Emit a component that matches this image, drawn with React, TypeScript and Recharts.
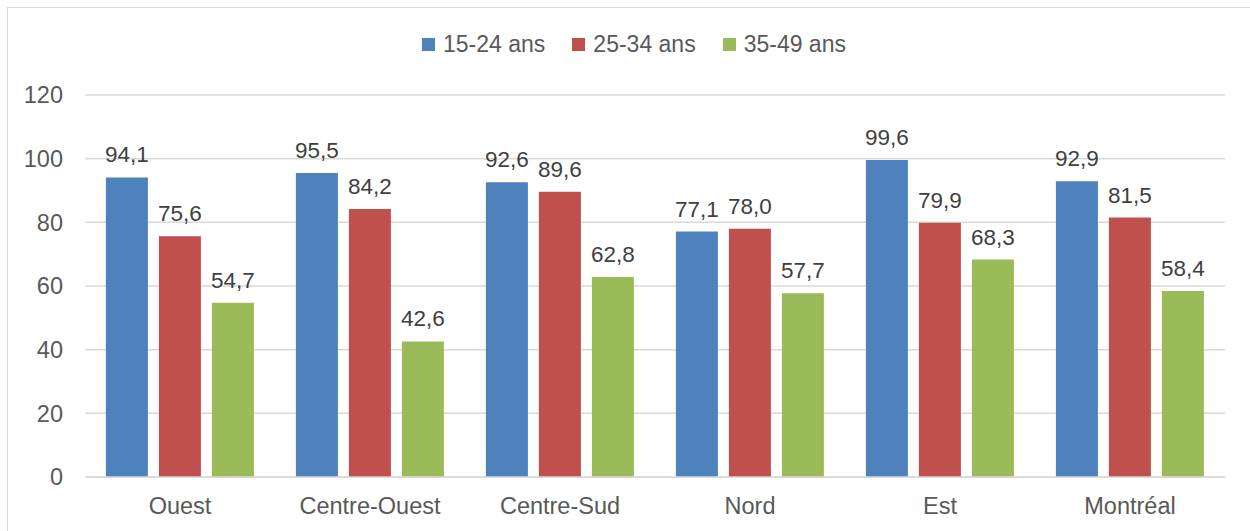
import { Bar, BarChart, CartesianGrid, LabelList, Legend, XAxis, YAxis } from "recharts";

// Taux par territoire et groupe d'âge
const REGIONS = ["Ouest", "Centre-Ouest", "Centre-Sud", "Nord", "Est", "Montréal"];
const AGE_15_24 = [94.1, 95.5, 92.6, 77.1, 99.6, 92.9];
const AGE_25_34 = [75.6, 84.2, 89.6, 78.0, 79.9, 81.5];
const AGE_35_49 = [54.7, 42.6, 62.8, 57.7, 68.3, 58.4];
const Y_TICKS = [0, 20, 40, 60, 80, 100, 120];

const SERIES = [
  { key: "a", name: "15-24 ans", color: "#4F81BD" },
  { key: "b", name: "25-34 ans", color: "#C0504D" },
  { key: "c", name: "35-49 ans", color: "#9BBB59" },
];

const data = REGIONS.map((region, i) => ({
  region,
  a: AGE_15_24[i],
  b: AGE_25_34[i],
  c: AGE_35_49[i],
}));

const FONT = "'Liberation Sans', Arial, sans-serif";
const AXIS_TEXT = "#595959";
const LABEL_TEXT = "#404040";
const GRID = "#D9D9D9";

const fmt = (v: number) => v.toFixed(1).replace(".", ",");

function LegendRow() {
  return (
    <div
      style={{
        display: "flex",
        justifyContent: "center",
        alignItems: "center",
        height: 28,
        paddingLeft: 18,
        fontFamily: FONT,
        fontSize: 23,
        color: AXIS_TEXT,
      }}
    >
      {SERIES.map((s, i) => (
        <div
          key={s.key}
          style={{ display: "flex", alignItems: "center", marginLeft: i === 0 ? 0 : 27 }}
        >
          <span style={{ width: 13, height: 13, background: s.color, marginRight: 8 }} />
          <span>{s.name}</span>
        </div>
      ))}
    </div>
  );
}

export default function App() {
  return (
    <div
      style={{
        position: "absolute",
        left: 0,
        top: 0,
        width: 1250,
        height: 531,
        overflow: "hidden",
        background: "#fff",
      }}
    >
      <div
        style={{
          position: "absolute",
          left: 7,
          top: 7,
          width: 1300,
          height: 600,
          border: "1.5px solid #D9D9D9",
        }}
      />
      <div style={{ position: "absolute", left: 0, top: 0 }}>
        <BarChart
          width={1250}
          height={531}
          data={data}
          margin={{ top: 20, right: 25, bottom: 0, left: 0 }}
          barCategoryGap="11%"
          barGap={11}
        >
          <CartesianGrid stroke={GRID} strokeWidth={1.5} vertical={false} />
          <XAxis
            dataKey="region"
            axisLine={{ stroke: GRID, strokeWidth: 1.5 }}
            tickLine={false}
            tickMargin={14}
            height={54}
            tick={{ fill: AXIS_TEXT, fontSize: 23.5, fontFamily: FONT }}
          />
          <YAxis
            domain={[0, 120]}
            ticks={Y_TICKS}
            width={85}
            axisLine={false}
            tickLine={false}
            tickMargin={16}
            tick={{ fill: AXIS_TEXT, fontSize: 23.5, fontFamily: FONT }}
          />
          <Legend
            verticalAlign="top"
            height={75}
            wrapperStyle={{ top: 30, left: 0, width: 1250 }}
            content={() => <LegendRow />}
          />
          {SERIES.map((s) => (
            <Bar
              key={s.key}
              dataKey={s.key}
              name={s.name}
              fill={s.color}
              isAnimationActive={false}
            >
              <LabelList
                dataKey={s.key}
                position="top"
                offset={15}
                formatter={(v: number) => fmt(v)}
                style={{ fill: LABEL_TEXT, fontSize: 22.5, fontFamily: FONT }}
              />
            </Bar>
          ))}
        </BarChart>
      </div>
    </div>
  );
}
